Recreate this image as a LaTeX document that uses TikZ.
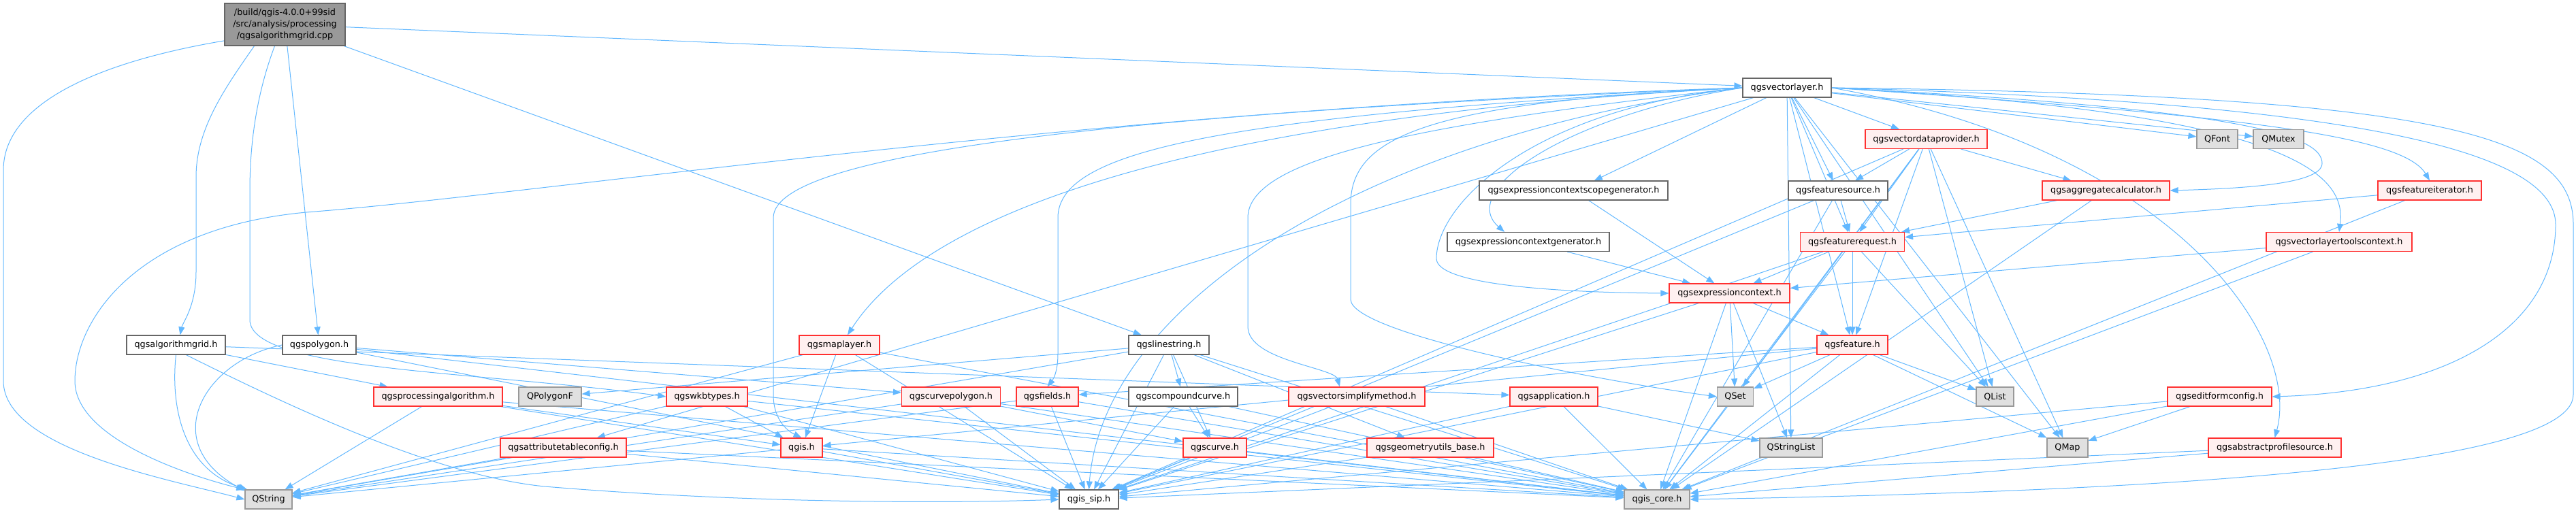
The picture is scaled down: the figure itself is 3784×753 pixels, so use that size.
\documentclass[tikz,border=0pt]{standalone}
\usepackage{fontspec}
\setmainfont{DejaVu Sans}
\usetikzlibrary{arrows.meta}
\definecolor{edgec}{HTML}{63B8FF}
\definecolor{redb}{HTML}{FF3030}
\definecolor{redf}{HTML}{FFF0F0}
\definecolor{grayb}{HTML}{999999}
\definecolor{grayf}{HTML}{E0E0E0}
\definecolor{whiteb}{HTML}{666666}
\definecolor{rootf}{HTML}{999999}
\pgfdeclarelayer{edges}
\pgfsetlayers{edges,main}
\tikzset{
  edge/.style={draw=edgec, line width=1pt, -{Triangle[length=12pt,width=9pt]}},
  basen/.style={draw, line width=1.2pt, minimum height=28pt, inner sep=0pt, font=\fontsize{12.8}{17}\selectfont, anchor=center},
  redn/.style={basen, draw=redb, fill=redf},
  grayn/.style={basen, draw=grayb, fill=grayf},
  whiten/.style={basen, draw=whiteb, fill=white},
  rootn/.style={basen, draw=whiteb, fill=rootf, align=center},
}
\begin{document}
\begin{tikzpicture}[x=1pt,y=-1pt]
\useasboundingbox (0,0) rectangle (3784,753);
% nodes
\node[rootn, minimum width=177pt, minimum height=62pt] (root) at (418.5,36) {/build/qgis-4.0.0+99sid\\/src/analysis/processing\\/qgsalgorithmgrid.cpp};
\node[whiten, minimum width=145pt] (algh) at (258.5,507) {qgsalgorithmgrid.h};
\node[whiten, minimum width=108pt] (poly) at (469,507) {qgspolygon.h};
\node[grayn, minimum width=69pt] (qstr) at (394.5,734) {QString};
\node[redn, minimum width=189pt] (procalg) at (643.5,583) {qgsprocessingalgorithm.h};
\node[grayn, minimum width=92pt] (qpolyf) at (808,583) {QPolygonF};
\node[redn, minimum width=119pt] (wkb) at (1038.5,583) {qgswkbtypes.h};
\node[redn, minimum width=185pt] (attr) at (827.5,658) {qgsattributetableconfig.h};
\node[redn, minimum width=61pt] (qgis) at (1177.5,658) {qgis.h};
\node[redn, minimum width=118pt] (maplayer) at (1233,507) {qgsmaplayer.h};
\node[whiten, minimum width=118pt] (linestr) at (1717,507) {qgslinestring.h};
\node[redn, minimum width=145pt] (curvepoly) at (1397,583) {qgscurvepolygon.h};
\node[redn, minimum width=91pt] (fields) at (1538.5,583) {qgsfields.h};
\node[whiten, minimum width=160pt] (compcurve) at (1738,583) {qgscompoundcurve.h};
\node[redn, minimum width=93pt] (curve) at (1784.5,658) {qgscurve.h};
\node[whiten, minimum width=87pt] (sip) at (1599.5,734) {qgis\_sip.h};
\node[redn, minimum width=200pt] (vsimp) at (1993,583) {qgsvectorsimplifymethod.h};
\node[redn, minimum width=129pt] (app) at (2282.5,583) {qgsapplication.h};
\node[redn, minimum width=186pt] (geomutils) at (2101,658) {qgsgeometryutils\_base.h};
\node[grayn, minimum width=96pt] (core) at (2434,734) {qgis\_core.h};
\node[whiten, minimum width=277pt] (ecsg) at (2311.5,280) {qgsexpressioncontextscopegenerator.h};
\node[whiten, minimum width=238pt] (ecg) at (2245,355.5) {qgsexpressioncontextgenerator.h};
\node[redn, minimum width=177pt] (ectx) at (2540.5,431) {qgsexpressioncontext.h};
\node[whiten, minimum width=130pt] (vlayer) at (2625,129) {qgsvectorlayer.h};
\node[redn, minimum width=179pt] (vdp) at (2829.5,204.5) {qgsvectordataprovider.h};
\node[whiten, minimum width=146pt] (fsrc) at (2700,280) {qgsfeaturesource.h};
\node[redn, minimum width=153pt] (freq) at (2721,355.5) {qgsfeaturerequest.h};
\node[redn, minimum width=187pt] (aggr) at (3093.5,280) {qgsaggregatecalculator.h};
\node[redn, minimum width=104pt] (feat) at (2721,507) {qgsfeature.h};
\node[grayn, minimum width=53pt] (qset) at (2549,583) {QSet};
\node[grayn, minimum width=55pt] (qlist) at (2930.5,583) {QList};
\node[grayn, minimum width=92pt] (qsl) at (2631,658) {QStringList};
\node[grayn, minimum width=60pt] (qmap) at (3037,658) {QMap};
\node[grayn, minimum width=60pt] (qfont) at (3257,204.5) {QFont};
\node[grayn, minimum width=74pt] (qmutex) at (3347,204.5) {QMutex};
\node[redn, minimum width=152pt] (fiter) at (3569,280) {qgsfeatureiterator.h};
\node[redn, minimum width=214pt] (vltc) at (3436,355.5) {qgsvectorlayertoolscontext.h};
\node[redn, minimum width=153pt] (efc) at (3260.5,583) {qgseditformconfig.h};
\node[redn, minimum width=195pt] (aps) at (3341.5,658) {qgsabstractprofilesource.h};
% edges
\begin{pgfonlayer}{edges}
\foreach \a/\b in {root/poly, root/linestr, root/vlayer,
  algh/procalg, algh/app,
  poly/curvepoly, poly/core, poly/sip,
  procalg/qstr, procalg/qgis, procalg/core, procalg/sip,
  wkb/qgis, wkb/core, wkb/sip, wkb/qstr,
  attr/qstr, attr/core, attr/sip,
  qgis/qstr, qgis/core, qgis/sip,
  maplayer/qgis, maplayer/qstr, maplayer/core, maplayer/sip,
  linestr/compcurve, linestr/curve, linestr/qpolyf, linestr/geomutils, linestr/core, linestr/sip, linestr/qstr,
  curvepoly/curve, curvepoly/core, curvepoly/sip, curvepoly/qstr,
  fields/core, fields/sip, fields/qstr,
  compcurve/curve, compcurve/core, compcurve/sip,
  curve/core, curve/sip,
  vsimp/core, vsimp/sip,
  app/core, app/sip, app/qsl,
  geomutils/core, geomutils/sip,
  ecsg/ectx, ecg/ectx,
  ectx/qset, ectx/qsl, ectx/feat, ectx/core, ectx/sip,
  vlayer/vdp, vlayer/fsrc, vlayer/freq, vlayer/feat, vlayer/ecsg, vlayer/qfont, vlayer/qmutex, vlayer/qlist, vlayer/qmap, vlayer/qsl, vlayer/attr,
  vdp/fsrc, vdp/freq, vdp/aggr, vdp/feat, vdp/qset, vdp/qlist, vdp/qmap, vdp/core, vdp/sip,
  fsrc/freq, fsrc/core, fsrc/sip,
  freq/ectx, freq/feat, freq/core, freq/sip, freq/qlist,
  aggr/freq, aggr/core,
  feat/qset, feat/qlist, feat/qmap, feat/core, feat/sip, feat/fields, feat/qgis,
  fiter/freq, fiter/core,
  vltc/ectx, vltc/core,
  efc/qmap, efc/core, efc/sip,
  aps/core, aps/sip}
  \draw[edge] (\a) -- (\b);
% curved edges
\draw[edge] (root.195) .. controls (150,90) and (5,150) .. (5,250) -- (5,560) .. controls (5,660) and (250,705) .. (qstr.west);
\draw[edge] ([xshift=-45pt]root.south) .. controls (330,130) and (288,190) .. (288,260) -- (288,400) .. controls (288,450) and (268,475) .. ([xshift=6pt]algh.north);
\draw[edge] ([xshift=-15pt]root.south) .. controls (380,130) and (367,200) .. (367,280) -- (367,470) .. controls (367,545) and (700,545) .. (wkb.west);
\draw[edge] (vlayer.west) .. controls (1600,160) and (800,285) .. (450,312) .. controls (200,335) and (110,470) .. (110,560) .. controls (110,650) and (300,705) .. (qstr.north west);
\draw[edge] (algh.south) .. controls (250,600) and (270,690) .. (qstr.155);
\draw[edge] ([xshift=15pt]algh.south) .. controls (450,610) and (650,700) .. (800,715) .. controls (1100,740) and (1400,740) .. (sip.west);
\draw[edge] (poly.west) .. controls (300,530) and (230,650) .. (qstr.160);
\draw[edge] (vlayer.west) .. controls (1700,165) and (1136,220) .. (1136,320) -- (1136,580) .. controls (1136,620) and (1160,635) .. (qgis.north);
\draw[edge] (vlayer.west) .. controls (1800,170) and (1554,220) .. (1554,320) -- (1554,520) .. controls (1554,550) and (1545,560) .. (fields.north);
\draw[edge] (vlayer.west) .. controls (1600,180) and (1330,360) .. ([xshift=12pt]maplayer.north);
\draw[edge] (vlayer.west) .. controls (2000,200) and (1620,450) .. (sip.north);
\draw[edge] (vlayer.west) .. controls (2100,180) and (1833,230) .. (1833,320) -- (1833,480) .. controls (1833,530) and (1960,540) .. ([xshift=-25pt]vsimp.north);
\draw[edge] (vlayer.west) .. controls (2300,170) and (2140,280) .. ([xshift=-35pt]ecg.north);
\draw[edge] (vlayer.west) .. controls (2250,160) and (2110,300) .. (2110,380) .. controls (2110,420) and (2300,430) .. (ectx.west);
\draw[edge] (vlayer.west) .. controls (2100,150) and (1984,200) .. (1984,300) -- (1984,440) .. controls (1984,490) and (2350,560) .. (qset.west);
\draw[edge] (vlayer.east) .. controls (3600,140) and (3780,200) .. (3780,330) -- (3780,580) .. controls (3780,700) and (3000,725) .. (core.east);
\draw[edge] (vlayer.east) .. controls (3450,150) and (3754,220) .. (3754,330) .. controls (3754,480) and (3600,575) .. (efc.east);
\draw[edge] (vlayer.east) .. controls (3300,160) and (3411,200) .. (3411,240) .. controls (3411,270) and (3300,277) .. (aggr.east);
\draw[edge] (vlayer.east) .. controls (3350,165) and (3448,250) .. (vltc.north);
\draw[edge] (vlayer.east) .. controls (3300,170) and (3530,200) .. (fiter.north);
\draw[edge] (vlayer.east) .. controls (3200,220) and (3380,500) .. (aps.north);
\end{pgfonlayer}
\end{tikzpicture}
\end{document}
